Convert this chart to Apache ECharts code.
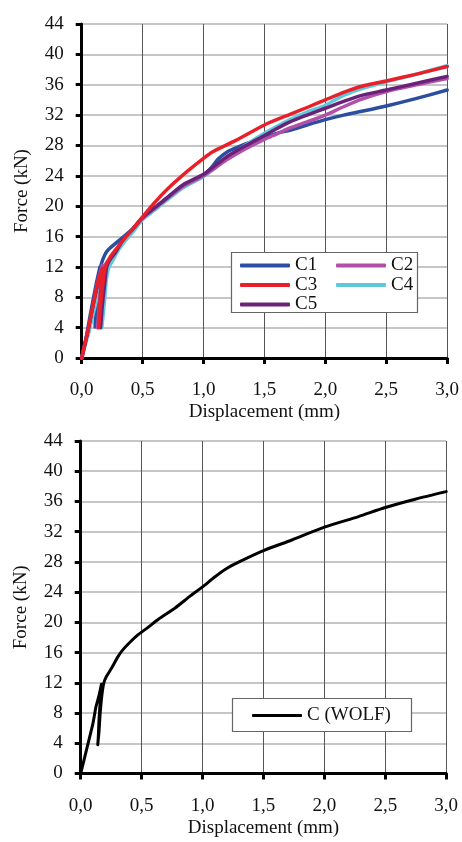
<!DOCTYPE html>
<html>
<head>
<meta charset="utf-8">
<script src="https://cdn.jsdelivr.net/npm/echarts@6/dist/echarts.min.js"></script>
<style>
html,body{margin:0;padding:0;background:#fff;}
#chart{width:462px;height:842px;}
</style>
</head>
<body>
<div id="chart"></div>
<script>
// ---- data (displacement mm, force kN) ----
const xTickLabels = ['0,0','0,5','1,0','1,5','2,0','2,5','3,0'];
const yTickLabels = ['0','4','8','12','16','20','24','28','32','36','40','44'];
const seriesNamesTop = ['C1','C2','C3','C4','C5'];

const c1 = [[0,0],[0.04,3],[0.08,6.5],[0.12,9.8],[0.15,12],[0.13,9],[0.115,6],[0.11,4.1],[0.125,7],[0.14,10],[0.16,12.3],[0.19,13.6],[0.22,14.3],[0.30,15.4],[0.41,16.9],[0.5,18.5],[0.6,19.8],[0.7,21.1],[0.83,22.7],[1.0,24.1],[1.06,25.0],[1.12,26.2],[1.2,27.2],[1.3,27.9],[1.38,28.4],[1.5,29.0],[1.6,29.6],[1.71,30.0],[1.85,30.7],[2.0,31.4],[2.15,32.0],[2.3,32.5],[2.5,33.2],[2.75,34.2],[3.0,35.3]];
const c2 = [[0,0],[0.05,3.5],[0.1,7.5],[0.14,10.5],[0.17,12.2],[0.155,9],[0.14,6],[0.13,4],[0.145,7],[0.165,10],[0.185,12],[0.22,12.9],[0.27,13.9],[0.34,15.6],[0.42,17],[0.5,18.4],[0.6,19.7],[0.7,21.0],[0.83,22.6],[1.0,24.0],[1.1,25.1],[1.2,26.2],[1.35,27.6],[1.5,28.8],[1.6,29.5],[1.71,30.3],[1.85,31.1],[2.0,32.0],[2.15,33.1],[2.3,34.1],[2.5,35.1],[2.75,36.0],[3.0,36.8]];
const c3 = [[0,0],[0.05,3.5],[0.1,7.5],[0.14,10.5],[0.17,11.8],[0.155,8.5],[0.145,6],[0.14,4],[0.155,7],[0.175,10],[0.195,12],[0.23,13.2],[0.28,14.3],[0.35,15.7],[0.42,17],[0.5,18.6],[0.6,20.5],[0.7,22.2],[0.83,24.1],[1.0,26.3],[1.08,27.2],[1.27,28.7],[1.5,30.7],[1.71,32.1],[1.85,33.0],[2.0,34.0],[2.15,35.0],[2.3,35.8],[2.5,36.5],[2.75,37.4],[3.0,38.4]];
const c4 = [[0,0],[0.06,3.5],[0.12,7.5],[0.17,10.3],[0.205,11],[0.19,8],[0.175,5.5],[0.165,4],[0.18,7],[0.2,10],[0.22,11.8],[0.26,13],[0.3,14.2],[0.36,15.5],[0.43,16.8],[0.5,18.2],[0.6,19.5],[0.7,20.8],[0.83,22.4],[1.0,23.9],[1.1,25.1],[1.2,26.4],[1.35,28.1],[1.5,29.6],[1.6,30.5],[1.71,31.4],[1.85,32.4],[2.0,33.3],[2.15,34.6],[2.3,35.5],[2.5,36.4],[2.75,37.4],[3.0,38.5]];
const c5 = [[0,0],[0.05,3.5],[0.1,7.5],[0.15,10.8],[0.185,11.8],[0.17,8.5],[0.16,6],[0.155,4],[0.17,7],[0.19,10],[0.205,12],[0.23,12.9],[0.28,14],[0.34,15.6],[0.42,17],[0.5,18.5],[0.6,19.8],[0.7,21.1],[0.83,22.8],[1.0,24.2],[1.1,25.4],[1.2,26.6],[1.35,28.0],[1.5,29.3],[1.6,30.2],[1.71,31.1],[1.85,32.0],[2.0,32.9],[2.15,33.8],[2.3,34.6],[2.5,35.3],[2.75,36.2],[3.0,37.1]];
const wolf = [[0,0],[0.05,3.3],[0.1,6.6],[0.125,8.8],[0.15,10.3],[0.17,11.8],[0.16,9.5],[0.15,7],[0.145,5],[0.14,3.8],[0.15,5.5],[0.16,8],[0.175,10.5],[0.19,12],[0.21,12.8],[0.255,14],[0.3,15.3],[0.337,16.2],[0.4,17.3],[0.474,18.4],[0.55,19.3],[0.638,20.4],[0.775,21.9],[0.9,23.5],[1.0,24.7],[1.1,26.0],[1.185,27.0],[1.3,28.0],[1.5,29.5],[1.733,30.9],[2.0,32.6],[2.28,34.0],[2.5,35.2],[2.745,36.3],[3.0,37.3]];

const colors = {C1:'#2c4ea0', C2:'#b24fa9', C3:'#e8202a', C4:'#5fc8dc', C5:'#6a2279', 'C (WOLF)':'#000000'};

const FONT = 'Liberation Serif';
const chart = echarts.init(document.getElementById('chart'), null, {renderer:'canvas'});

function xAxisDef(gi){
  return {
    type:'value', gridIndex:gi, min:0, max:3, interval:0.5,
    name:'Displacement (mm)', nameLocation:'middle', nameGap:45,
    nameTextStyle:{fontFamily:FONT, fontSize:19, color:'#111'},
    axisLine:{show:true, onZero:false, lineStyle:{color:'#000', width:3}},
    axisTick:{show:true, length:6, lineStyle:{color:'#000', width:3}},
    axisLabel:{fontFamily:FONT, fontSize:19, color:'#111', margin:23,
      formatter:(v)=>xTickLabels[Math.round(v/0.5)]},
    splitLine:{show:true, lineStyle:{color:'#555', width:1}}
  };
}
function yAxisDef(gi){
  return {
    type:'value', gridIndex:gi, min:0, max:44, interval:4,
    name:'Force (kN)', nameLocation:'middle', nameGap:50, nameRotate:90,
    nameTextStyle:{fontFamily:FONT, fontSize:19, color:'#111'},
    axisLine:{show:true, onZero:false, lineStyle:{color:'#000', width:3}},
    axisTick:{show:true, length:6, lineStyle:{color:'#000', width:3}},
    axisLabel:{fontFamily:FONT, fontSize:19, color:'#111', margin:18,
      formatter:(v)=>yTickLabels[Math.round(v/4)]},
    splitLine:{show:true, lineStyle:{color:'#c6c6c6', width:2}}
  };
}
function lineSeries(name, data, gi, width, z){
  return {
    name, type:'line', data, xAxisIndex:gi, yAxisIndex:gi,
    showSymbol:false, symbol:'none', smooth:0.25, z:z,
    color:colors[name],
    itemStyle:{color:colors[name]},
    lineStyle:{color:colors[name], width:width, cap:'round', join:'round'},
    emphasis:{disabled:true}, animation:false
  };
}
const legendCommon = {
  orient:'vertical', itemWidth:50, itemHeight:4, itemGap:0.5, icon:'roundRect',
  padding:0, z:5,
  textStyle:{fontFamily:FONT, fontSize:19, color:'#111', lineHeight:16}
};

chart.setOption({
  animation:false,
  backgroundColor:'#fff',
  grid:[
    {left:81.7, top:24, width:365.5, height:334},
    {left:80.7, top:441, width:365.5, height:332.5}
  ],
  xAxis:[xAxisDef(0), xAxisDef(1)],
  yAxis:[yAxisDef(0), yAxisDef(1)],
  graphic:[
    {type:'rect', z:3, shape:{x:231.5, y:252.5, width:186, height:60}, style:{fill:'#fff', stroke:'#666', lineWidth:1.2}},
    {type:'rect', z:3, shape:{x:232.5, y:698.5, width:179, height:33}, style:{fill:'#fff', stroke:'#666', lineWidth:1.2}}
  ],
  legend:[
    Object.assign({}, legendCommon, {left:240, top:256, data:['C1','C3','C5']}),
    Object.assign({}, legendCommon, {left:336, top:256, data:['C2','C4']}),
    Object.assign({}, legendCommon, {left:252, top:706, itemHeight:3, data:['C (WOLF)']})
  ],
  series:[
    lineSeries('C1', c1, 0, 3.5, 2),
    lineSeries('C4', c4, 0, 3.5, 2),
    lineSeries('C2', c2, 0, 3.5, 2),
    lineSeries('C5', c5, 0, 3.5, 2),
    lineSeries('C3', c3, 0, 3.5, 2),
    lineSeries('C (WOLF)', wolf, 1, 3, 2)
  ]
});
</script>
</body>
</html>
